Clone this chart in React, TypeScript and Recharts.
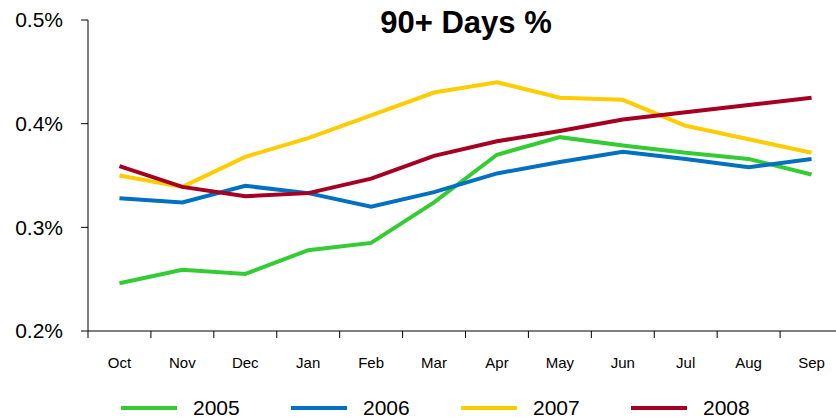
import { CartesianGrid, Legend, Line, LineChart, XAxis, YAxis } from "recharts";

const months = ["Oct", "Nov", "Dec", "Jan", "Feb", "Mar", "Apr", "May", "Jun", "Jul", "Aug", "Sep"];
const y2005 = [0.246, 0.259, 0.255, 0.278, 0.285, 0.324, 0.37, 0.387, 0.379, 0.372, 0.366, 0.351];
const y2006 = [0.328, 0.324, 0.34, 0.333, 0.32, 0.334, 0.352, 0.363, 0.373, 0.366, 0.358, 0.366];
const y2007 = [0.35, 0.339, 0.368, 0.386, 0.408, 0.43, 0.44, 0.425, 0.423, 0.398, 0.385, 0.372];
const y2008 = [0.359, 0.339, 0.33, 0.333, 0.347, 0.369, 0.383, 0.393, 0.404, 0.411, 0.418, 0.425];
const yTicks = [0.2, 0.3, 0.4, 0.5];

const series = [
  { key: "2005", color: "#33cc33" },
  { key: "2006", color: "#0070c0" },
  { key: "2007", color: "#ffcc00" },
  { key: "2008", color: "#a50021" },
];

const data = months.map((m, i) => ({
  month: m,
  "2005": y2005[i],
  "2006": y2006[i],
  "2007": y2007[i],
  "2008": y2008[i],
}));

const FONT = "'Liberation Sans', Arial, sans-serif";
const BAND = 755 / 12;

// tick marks sit on category boundaries, labels in the middle
const MonthTick = (props: any) => {
  const { x, y, payload } = props;
  const bx = x - BAND / 2;
  return (
    <g>
      <line x1={bx} y1={y - 8} x2={bx} y2={y - 1} stroke="#000" strokeWidth={1} />
      <text x={x} y={y + 29} textAnchor="middle" fontSize={15} fontFamily={FONT} fill="#000">
        {payload.value}
      </text>
    </g>
  );
};

const LegendContent = () => (
  <div style={{ display: "flex", height: 30, alignItems: "center", fontFamily: FONT, fontSize: 21 }}>
    {series.map((s) => (
      <div key={s.key} style={{ display: "flex", alignItems: "center", width: 170 }}>
        <div style={{ width: 56, height: 4, background: s.color, marginRight: 16 }} />
        <span>{s.key}</span>
      </div>
    ))}
  </div>
);

export default function App() {
  return (
    <div style={{ position: "absolute", left: 0, top: 0, width: 836, height: 418, overflow: "hidden", background: "#fff" }}>
      <div
        style={{
          position: "absolute",
          left: 366,
          width: 200,
          top: 5,
          textAlign: "center",
          fontFamily: FONT,
          fontWeight: "bold",
          fontSize: 31,
          zIndex: 2,
        }}
      >
        90+ Days %
      </div>
      <LineChart width={845} height={418} data={data} margin={{ top: 20, right: 2, left: 0, bottom: 7 }}>
        <CartesianGrid vertical={false} horizontal={false} />
        <XAxis
          dataKey="month"
          scale="band"
          height={50}
          axisLine={{ stroke: "#000" }}
          tickLine={false}
          tick={<MonthTick />}
          interval={0}
        />
        <YAxis
          width={88}
          domain={[0.2, 0.5]}
          ticks={yTicks}
          tickFormatter={(v: number) => `${v.toFixed(1)}%`}
          axisLine={{ stroke: "#000" }}
          tickLine={{ stroke: "#000" }}
          tickSize={7}
          tickMargin={18}
          tick={{ fontSize: 21, fontFamily: FONT, fill: "#000" }}
        />
        <Legend
          verticalAlign="bottom"
          content={<LegendContent />}
          wrapperStyle={{ top: 393, bottom: "auto", left: 121, width: 700, height: 30 }}
        />
        {series.map((s) => (
          <Line
            key={s.key}
            dataKey={s.key}
            stroke={s.color}
            strokeWidth={4}
            dot={false}
            isAnimationActive={false}
          />
        ))}
      </LineChart>
    </div>
  );
}
